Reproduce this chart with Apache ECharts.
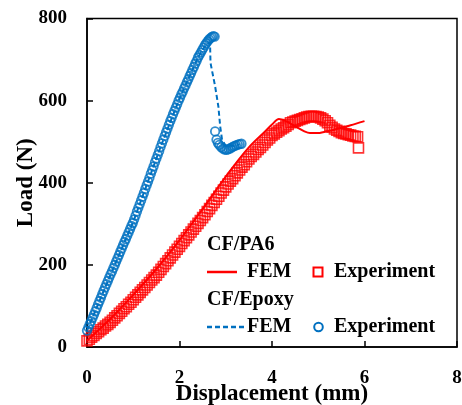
<!DOCTYPE html>
<html>
<head>
<meta charset="utf-8">
<script src="https://cdn.jsdelivr.net/npm/echarts@6/dist/echarts.min.js"></script>
<style>html,body{margin:0;padding:0;background:#fff;}#chart{width:462px;height:405px;}</style>
</head>
<body>
<div id="chart"></div>
<script>
// ---- data ----
const xTicks = [0, 2, 4, 6, 8];
const yTicks = [0, 200, 400, 600, 800];
const xTitle = 'Displacement (mm)';
const yTitle = 'Load (N)';

// CF/PA6 experiment [displacement mm, load N]
const pa6Experiment = [
  [0,15],[0.05,19],[0.1,24],[0.15,28],[0.2,33],[0.25,37],[0.3,42],[0.35,46],[0.4,51],[0.45,55],[0.5,60],
  [0.55,65],[0.6,71],[0.65,76],[0.7,82],[0.75,87],[0.8,93],[0.85,98],[0.9,104],[0.95,109],[1.0,115],
  [1.05,121],[1.1,127],[1.15,133],[1.2,139],[1.25,145],[1.3,151],[1.35,157],[1.4,163],[1.45,169],[1.5,175],
  [1.55,182],[1.6,189],[1.65,196],[1.7,203],[1.75,210],[1.8,217],[1.85,224],[1.9,231],[1.95,238],[2.0,245],
  [2.05,252],[2.1,259],[2.15,266],[2.2,273],[2.25,280],[2.3,287],[2.35,294],[2.4,301],[2.45,308],[2.5,315],
  [2.55,322],[2.6,330],[2.65,337],[2.7,345],[2.75,352],[2.8,360],[2.85,367],[2.9,375],[2.95,382],[3.0,390],
  [3.05,397],[3.1,404],[3.15,410],[3.2,417],[3.25,424],[3.3,431],[3.35,438],[3.4,444],[3.45,451],[3.5,458],
  [3.55,464],[3.6,469],[3.65,475],[3.7,481],[3.75,486],[3.8,492],[3.85,498],[3.9,504],[3.95,509],[4.0,515],
  [4.05,519],[4.1,523],[4.15,527],[4.2,531],[4.25,534],[4.3,538],[4.35,542],[4.4,546],
  [4.45,548],[4.5,550],[4.55,552],[4.6,554],[4.65,556],[4.7,558],[4.75,560],[4.8,561],
  [4.85,562],[4.9,562],[4.95,561],[5.0,560],
  [5.05,558],[5.1,555],[5.15,551],[5.2,546],[5.25,540],[5.3,535],
  [5.35,531],[5.4,528],[5.45,525],[5.5,522],
  [5.55,520],[5.6,519],[5.65,517],[5.7,516],[5.75,514],[5.8,513],[5.85,512],
  [5.87,485]
];

// CF/PA6 FEM
const pa6Fem = [
  [0,15],[0.5,68],[1.0,127],[1.5,190],[2.0,260],[2.5,336],[3.06,424],[3.49,485],[3.85,525],[4.0,542],
  [4.15,555],[4.3,550],[4.45,541],[4.57,533],[4.7,525],[4.82,521],[5.0,521],[5.1,523],[5.3,528],
  [5.47,533],[5.7,540],[6.0,550]
];

// CF/Epoxy experiment
const epoxyExperiment = [
  [0,40],[0.03,48],[0.06,56],[0.09,63],[0.12,71],[0.15,79],[0.18,87],
  [0.21,95],[0.24,104],[0.27,112],[0.3,120],[0.33,129],[0.36,137],[0.39,145],
  [0.42,153],[0.45,161],[0.48,169],[0.51,177],[0.54,184],[0.57,192],[0.6,200],
  [0.63,208],[0.66,216],[0.69,224],[0.72,232],[0.75,240],[0.78,248],[0.81,256],[0.84,263],[0.87,271],
  [0.9,279],[0.93,287],[0.96,295],[0.99,302],
  [1.02,311],[1.05,320],[1.08,330],[1.11,339],[1.14,348],[1.17,357],[1.2,366],[1.23,375],[1.26,385],
  [1.29,394],[1.32,403],[1.35,412],[1.38,422],[1.41,431],[1.44,440],[1.47,450],[1.5,459],[1.53,468],
  [1.56,477],[1.59,487],
  [1.62,496],[1.65,505],[1.68,514],[1.71,523],[1.74,532],[1.77,541],[1.8,550],
  [1.83,558],[1.86,567],[1.89,575],[1.92,583],[1.95,591],[1.98,600],
  [2.01,607],[2.04,615],[2.07,622],[2.1,630],[2.13,637],[2.16,645],[2.19,652],[2.22,660],[2.25,667],
  [2.28,675],[2.31,682],[2.34,690],[2.37,697],[2.4,705],
  [2.43,711],[2.46,717],[2.49,723],[2.52,729],[2.55,735],
  [2.58,740],[2.61,745],[2.64,749],[2.67,752],[2.7,755],[2.73,757],[2.76,756],
  [2.77,525],[2.8,505],[2.83,497],[2.86,492],[2.9,487],[2.94,483],[2.98,481],[3.02,480],[3.06,482],
  [3.1,484],[3.14,487],[3.18,489],[3.22,491],[3.26,493],[3.3,494],[3.34,495]
];

// CF/Epoxy FEM
const epoxyFem = [
  [0,40],[0.6,200],[1.0,305],[1.6,490],[2.0,605],[2.4,705],[2.58,738],[2.66,742],[2.67,692],
  [2.77,635],[2.84,586],[2.88,537],[2.92,505],[3.0,490],[3.2,490],[3.3,494]
];

const legendHeaders = ['CF/PA6', 'CF/Epoxy'];
const legendLabels = ['FEM', 'Experiment'];

// ---- styling ----
const RED = '#FF0000';
const BLUE = '#0070C0';
const SERIF = '"Liberation Serif", "Times New Roman", serif';

const chart = echarts.init(document.getElementById('chart'), null, {renderer: 'canvas'});

function legendText(txt, x, y) {
  return {type: 'text', x: x, y: y, z: 100,
    style: {text: txt, fill: '#000', font: 'bold 20px ' + SERIF, align: 'left', verticalAlign: 'middle'}};
}

chart.setOption({
  animation: false,
  backgroundColor: '#fff',
  grid: {left: 87, right: 5, top: 18.5, bottom: 58, outerBoundsMode: 'none', containLabel: false,
         show: true, borderColor: '#000', borderWidth: 1.5, backgroundColor: 'transparent'},
  xAxis: {
    type: 'value', min: xTicks[0], max: xTicks[xTicks.length - 1], interval: 2,
    name: xTitle, nameLocation: 'middle', nameGap: 36, nameMoveOverlap: false,
    nameTextStyle: {fontFamily: SERIF, fontWeight: 'bold', fontSize: 23, color: '#000'},
    axisLine: {show: true, onZero: false, lineStyle: {color: '#000', width: 1.5}},
    axisTick: {show: true, inside: true, length: 6, lineStyle: {color: '#000', width: 1.5}},
    axisLabel: {fontFamily: SERIF, fontWeight: 'bold', fontSize: 19, color: '#000', margin: 22, showMaxLabel: true},
    splitLine: {show: false}
  },
  yAxis: {
    type: 'value', min: yTicks[0], max: yTicks[yTicks.length - 1], interval: 200,
    name: yTitle, nameLocation: 'middle', nameGap: 49, nameMoveOverlap: false,
    nameTextStyle: {fontFamily: SERIF, fontWeight: 'bold', fontSize: 23, color: '#000'},
    axisLine: {show: true, onZero: false, lineStyle: {color: '#000', width: 1.5}},
    axisTick: {show: true, inside: true, length: 6, lineStyle: {color: '#000', width: 1.5}},
    axisLabel: {fontFamily: SERIF, fontWeight: 'bold', fontSize: 19, color: '#000', margin: 20},
    splitLine: {show: false}
  },
  series: [
    {name: 'CF/PA6 Experiment', type: 'scatter', data: pa6Experiment, symbol: 'rect', symbolSize: 10,
     itemStyle: {color: 'rgba(0,0,0,0)', borderColor: RED, borderWidth: 1.6}, z: 2},
    {name: 'CF/PA6 FEM', type: 'line', data: pa6Fem, showSymbol: false, symbol: 'none', smooth: 0.3,
     lineStyle: {color: RED, width: 2}, z: 3},
    {name: 'CF/Epoxy Experiment', type: 'scatter', data: epoxyExperiment, symbol: 'circle', symbolSize: 8.5,
     itemStyle: {color: 'rgba(0,0,0,0)', borderColor: BLUE, borderWidth: 1.8}, z: 2},
    {name: 'CF/Epoxy FEM', type: 'line', data: epoxyFem, showSymbol: false, symbol: 'none',
     lineStyle: {color: BLUE, width: 2, type: [5, 3]}, z: 3}
  ],
  graphic: [
    legendText(legendHeaders[0], 207, 245),
    {type: 'line', z: 100, shape: {x1: 207, y1: 272, x2: 237, y2: 272}, style: {stroke: RED, lineWidth: 2.5}},
    legendText(legendLabels[0], 247, 272),
    {type: 'rect', z: 100, shape: {x: 313.5, y: 267.5, width: 9, height: 9}, style: {fill: 'none', stroke: RED, lineWidth: 2}},
    legendText(legendLabels[1], 334, 272),
    legendText(legendHeaders[1], 207, 300),
    {type: 'line', z: 100, shape: {x1: 207, y1: 327, x2: 244, y2: 327}, style: {stroke: BLUE, lineWidth: 2.5, lineDash: [5, 3]}},
    legendText(legendLabels[0], 247, 327),
    {type: 'circle', z: 100, shape: {cx: 318.5, cy: 327, r: 4.3}, style: {fill: 'none', stroke: BLUE, lineWidth: 2}},
    legendText(legendLabels[1], 334, 327)
  ]
});
</script>
</body>
</html>
